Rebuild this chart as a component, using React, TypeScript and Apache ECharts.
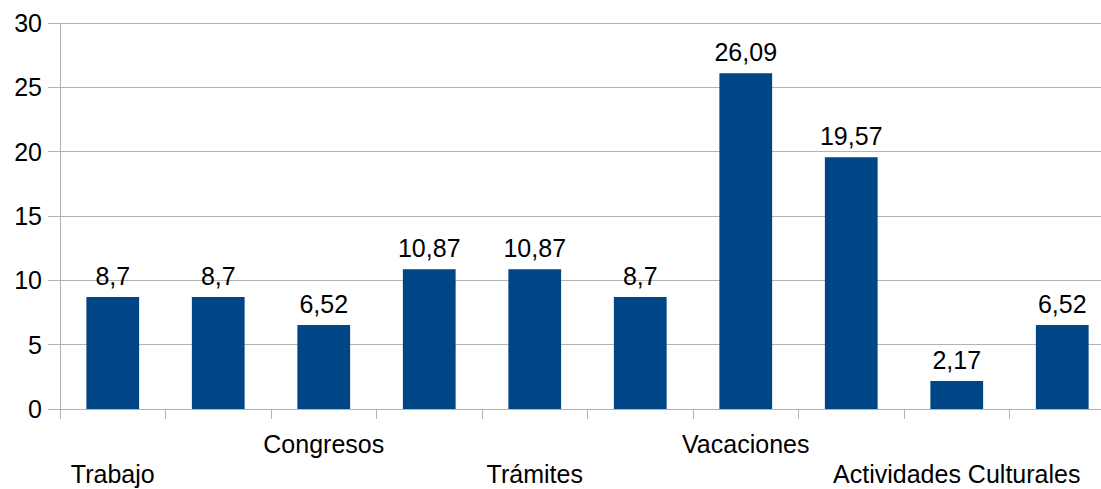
import React, { useEffect, useRef } from "react";
import * as echarts from "echarts";

const categories = [
  "Trabajo",
  "",
  "Congresos",
  "",
  "Trámites",
  "",
  "Vacaciones",
  "",
  "Actividades Culturales",
  "",
];
const values = [8.7, 8.7, 6.52, 10.87, 10.87, 8.7, 26.09, 19.57, 2.17, 6.52];
const yTicks = { min: 0, max: 30, interval: 5 };

const FONT = "'Liberation Sans', Arial, sans-serif";
const GRID = "#b3b3b3";

export default function App() {
  const ref = useRef<HTMLDivElement>(null);
  useEffect(() => {
    if (!ref.current) return;
    const chart = echarts.init(ref.current, undefined, { renderer: "svg" });
    chart.setOption({
      animation: false,
      grid: { left: 60, right: 0, top: 23, bottom: 80, containLabel: false },
      xAxis: {
        type: "category",
        data: categories,
        axisLine: { show: true, lineStyle: { color: GRID, width: 1 } },
        axisTick: { show: true, length: 10, interval: 0, lineStyle: { color: GRID } },
        axisLabel: {
          interval: 0,
          margin: 20,
          color: "#000",
          fontFamily: FONT,
          fontSize: 25,
          lineHeight: 30,
          verticalAlign: "top",
          formatter: (v: string, i: number) => {
            if (!v) return "";
            return i % 4 === 0 ? "\n" + v : v;
          },
        },
        splitLine: { show: false },
      },
      yAxis: {
        type: "value",
        min: yTicks.min,
        max: yTicks.max,
        interval: yTicks.interval,
        axisLine: { show: true, lineStyle: { color: GRID, width: 1 } },
        axisTick: { show: true, length: 12, lineStyle: { color: GRID } },
        axisLabel: { margin: 18, color: "#000", fontFamily: FONT, fontSize: 25 },
        splitLine: { show: true, lineStyle: { color: GRID, width: 1 } },
      },
      series: [
        {
          type: "bar",
          data: values,
          barWidth: "50%",
          itemStyle: { color: "#004586" },
          label: {
            show: true,
            position: "top",
            distance: 9,
            color: "#000",
            fontFamily: FONT,
            fontSize: 25,
            formatter: (p: any) => String(p.value).replace(".", ","),
          },
        },
      ],
    });
    return () => chart.dispose();
  }, []);
  return (
    <div
      style={{
        position: "fixed",
        left: 0,
        top: 0,
        width: 1101,
        height: 489,
        overflow: "hidden",
        background: "#fff",
      }}
    >
      <div ref={ref} style={{ width: 1115, height: 489 }} />
    </div>
  );
}
